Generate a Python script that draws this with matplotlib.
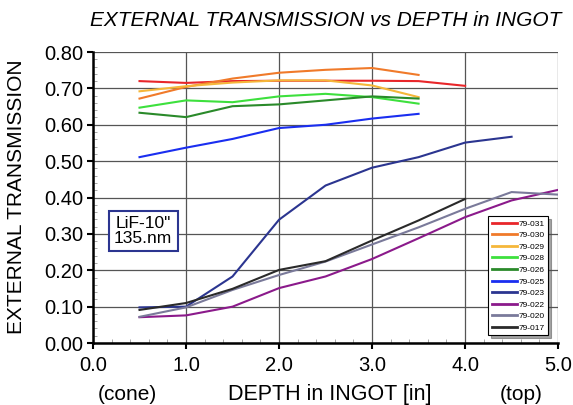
import numpy as np
import matplotlib
matplotlib.use('Agg')
import matplotlib.pyplot as plt
from matplotlib.ticker import MultipleLocator

plt.rcParams['font.family'] = ['Liberation Sans', 'DejaVu Sans']

depth = [0.5, 1.0, 1.5, 2.0, 2.5, 3.0, 3.5, 4.0, 4.5, 5.0]

t_031 = [0.720, 0.715, 0.720, 0.721, 0.721, 0.721, 0.720, 0.707]
t_030 = [0.672, 0.704, 0.727, 0.743, 0.751, 0.756, 0.737]
t_029 = [0.692, 0.706, 0.716, 0.722, 0.722, 0.708, 0.676]
t_028 = [0.647, 0.667, 0.662, 0.678, 0.685, 0.676, 0.658]
t_026 = [0.633, 0.621, 0.651, 0.656, 0.667, 0.678, 0.672]
t_025 = [0.511, 0.537, 0.561, 0.591, 0.600, 0.617, 0.630]
t_023 = [0.098, 0.100, 0.183, 0.339, 0.433, 0.482, 0.511, 0.551, 0.567]
t_022 = [0.071, 0.076, 0.100, 0.151, 0.183, 0.231, 0.288, 0.346, 0.392, 0.421]
t_020 = [0.072, 0.098, 0.146, 0.187, 0.224, 0.271, 0.318, 0.369, 0.415, 0.408]
t_017 = [0.091, 0.110, 0.149, 0.201, 0.225, 0.282, 0.337, 0.396]

series = [
    ('79-031', t_031, '#e8262a'),
    ('79-030', t_030, '#f07a2a'),
    ('79-029', t_029, '#f5b73a'),
    ('79-028', t_028, '#3de03d'),
    ('79-026', t_026, '#2a8a2a'),
    ('79-025', t_025, '#1a2ef0'),
    ('79-023', t_023, '#2b3590'),
    ('79-022', t_022, '#8b1a8b'),
    ('79-020', t_020, '#7a7a9a'),
    ('79-017', t_017, '#2a2a2a'),
]

xticks = np.arange(0, 5.01, 1.0)
yticks = np.arange(0, 0.801, 0.1)

fig = plt.figure(figsize=(5.73, 4.05), dpi=100)
ax = fig.add_axes([0.1623, 0.153, 0.8117, 0.7186])

for name, vals, col in series:
    ax.plot(depth[:len(vals)], vals, color=col, lw=1.5, label=name)

ax.set_xlim(0, 5)
ax.set_ylim(0, 0.8)
ax.set_xticks(xticks)
ax.set_yticks(yticks)
ax.set_xticklabels(['%.1f' % v for v in xticks], fontsize=14.5)
ax.set_yticklabels(['%.2f' % v for v in yticks], fontsize=14.5)
ax.xaxis.set_minor_locator(MultipleLocator(0.2))
ax.yaxis.set_minor_locator(MultipleLocator(0.02))
ax.tick_params(which='major', direction='out', length=4, width=1.5)
ax.tick_params(axis='x', which='major', pad=5)
ax.tick_params(axis='y', which='major', pad=3)
ax.tick_params(which='minor', direction='in', length=3, width=0.6, color='#999999')
ax.grid(True, which='major', color='#555555', lw=0.9)
ax.set_axisbelow(True)

for s in ['top', 'right']:
    ax.spines[s].set_visible(False)
for s in ['left', 'bottom']:
    ax.spines[s].set_linewidth(1.8)

fig.text(17 / 573, 1 - 197 / 405, 'EXTERNAL TRANSMISSION', fontsize=15,
         rotation=90, ha='center', va='center')
fig.text(330 / 573, 1 - 400 / 405, 'DEPTH in INGOT [in]', fontsize=15.5,
         ha='center', va='baseline')
fig.text(127 / 573, 1 - 400 / 405, '(cone)', fontsize=15, ha='center', va='baseline')
fig.text(521 / 573, 1 - 400 / 405, '(top)', fontsize=15, ha='center', va='baseline')
fig.text(326 / 573, 1 - 20 / 405, 'EXTERNAL TRANSMISSION vs DEPTH in INGOT',
         fontsize=15, style='italic', ha='center', va='center')

ax.text(0.108, 0.385, 'LiF-10"\n135.nm', transform=ax.transAxes, fontsize=12.5,
        ha='center', va='center', linespacing=1.0,
        bbox=dict(boxstyle='square,pad=0.3', fc='white', ec='#2b3590', lw=1.5))

leg = ax.legend(loc='lower right', bbox_to_anchor=(0.978, 0.027), fontsize=6,
                frameon=True, fancybox=False, shadow=True, borderaxespad=0,
                handlelength=3.0, handletextpad=0.2, labelspacing=0.45,
                borderpad=0.4)
leg.get_frame().set_edgecolor('black')
leg.get_frame().set_linewidth(0.8)
for line in leg.get_lines():
    line.set_linewidth(2.0)

fig.savefig('out.png', dpi=100)
